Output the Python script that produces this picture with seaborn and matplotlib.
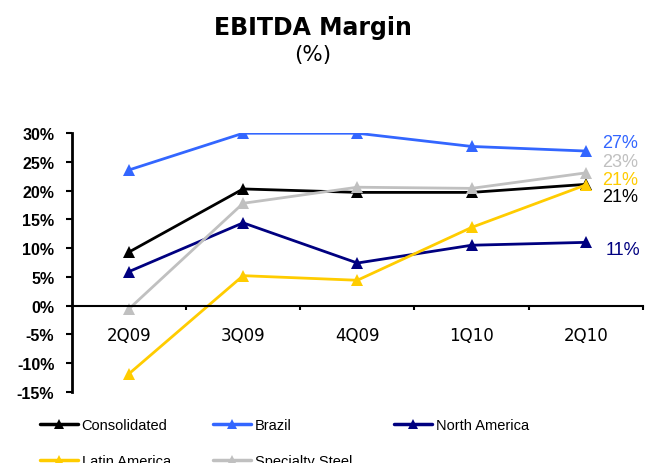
import matplotlib
matplotlib.use("Agg")
import matplotlib.pyplot as plt
import seaborn as sns
import pandas as pd
import numpy as np
from matplotlib.lines import Line2D

quarters = ["2Q09", "3Q09", "4Q09", "1Q10", "2Q10"]
consolidated = [9.3, 20.3, 19.7, 19.7, 21.1]
brazil = [23.6, 30.0, 30.0, 27.7, 26.9]
north_america = [5.9, 14.4, 7.4, 10.5, 11.0]
latin_america = [-11.9, 5.2, 4.4, 13.6, 21.0]
specialty_steel = [-0.6, 17.8, 20.6, 20.4, 23.1]
end_labels = ["21%", "27%", "11%", "21%", "23%"]

series_names = ["Consolidated", "Brazil", "North America", "Latin America", "Specialty Steel"]
series_values = [consolidated, brazil, north_america, latin_america, specialty_steel]
colors = ["#000000", "#3366FF", "#000080", "#FFCC00", "#C0C0C0"]
# label offsets in pixels (dx, dy) relative to last point
label_offsets = [(16, -12), (16, 9), (20, -7), (16, 5), (16, 11)]

rows = []
for name, vals in zip(series_names, series_values):
    for i, v in enumerate(vals):
        rows.append({"series": name, "idx": i, "value": v})
df = pd.DataFrame(rows)

sns.set_theme(style="white")
plt.rcParams["font.family"] = ["Liberation Sans", "DejaVu Sans"]
plt.rcParams["text.color"] = "black"
plt.rcParams["xtick.color"] = "black"
plt.rcParams["ytick.color"] = "black"

fig = plt.figure(figsize=(6.45, 4.64), dpi=100)
ax = fig.add_axes([0.1112, 0.1537, 0.8857, 0.557])

sns.lineplot(data=df, x="idx", y="value", hue="series", hue_order=series_names,
             palette=dict(zip(series_names, colors)), marker="^", markersize=9,
             markeredgewidth=0, linewidth=2, ax=ax, legend=False)

ax.set_xlim(-0.5, 4.5)
ax.set_ylim(-15, 30)
ax.set_xlabel("")
ax.set_ylabel("")

yt = np.arange(-15, 31, 5)
ax.set_yticks(yt)
ax.set_yticklabels([f"{int(t)}%" for t in yt])
ax.set_xticks(range(len(quarters)))
ax.set_xticklabels(quarters)
ax.set_xticks(np.arange(0.5, 4.6, 1), minor=True)

ax.tick_params(axis="y", direction="out", length=4.5, width=1.5, pad=8, left=True, labelsize=11.5)
ax.tick_params(axis="x", which="major", length=0, pad=15, labelsize=12)
ax.tick_params(axis="x", which="minor", direction="out", length=3, width=1.5, bottom=True)

for s in ["top", "right"]:
    ax.spines[s].set_visible(False)
ax.spines["left"].set_linewidth(2)
ax.spines["left"].set_color("black")
ax.spines["bottom"].set_position(("data", 0))
ax.spines["bottom"].set_linewidth(1.5)
ax.spines["bottom"].set_color("black")
ax.grid(False)

for name, vals, c, lab, (dx, dy) in zip(series_names, series_values, colors, end_labels, label_offsets):
    ax.annotate(lab, xy=(len(vals) - 1, vals[-1]), xytext=(dx * 0.72, dy * 0.72),
                textcoords="offset points", color=c, fontsize=13, ha="left", va="center",
                family=["Liberation Sans", "DejaVu Sans"])

fig.text(0.485, 1 - 28 / 464, "EBITDA Margin", ha="center", va="center",
         fontsize=17, fontweight="bold", family="DejaVu Sans", color="black")
fig.text(0.485, 1 - 55 / 464, "(%)", ha="center", va="center",
         fontsize=15.5, family="DejaVu Sans", color="black")

hs = [Line2D([0], [0], color=c, lw=2.5, marker="^", markersize=7, markeredgewidth=0) for c in colors]
order = [0, 3, 1, 4, 2]
leg = fig.legend([hs[i] for i in order], [series_names[i] for i in order],
                 loc="upper left", bbox_to_anchor=(40 / 645, 1 - 419 / 464), ncol=3,
                 frameon=False, borderpad=0, borderaxespad=0,
                 handlelength=2.6, handletextpad=0.25, columnspacing=2.9, labelspacing=1.5,
                 prop={"family": ["Liberation Sans", "DejaVu Sans"], "size": 10.5})

fig.canvas.draw()
for lab in ax.get_yticklabels():
    lab.set_fontweight("bold")
    lab.set_fontfamily(["Liberation Sans", "DejaVu Sans"])
for lab in ax.get_xticklabels():
    lab.set_fontfamily(["DejaVu Sans"])

fig.savefig("out.png", dpi=100)
